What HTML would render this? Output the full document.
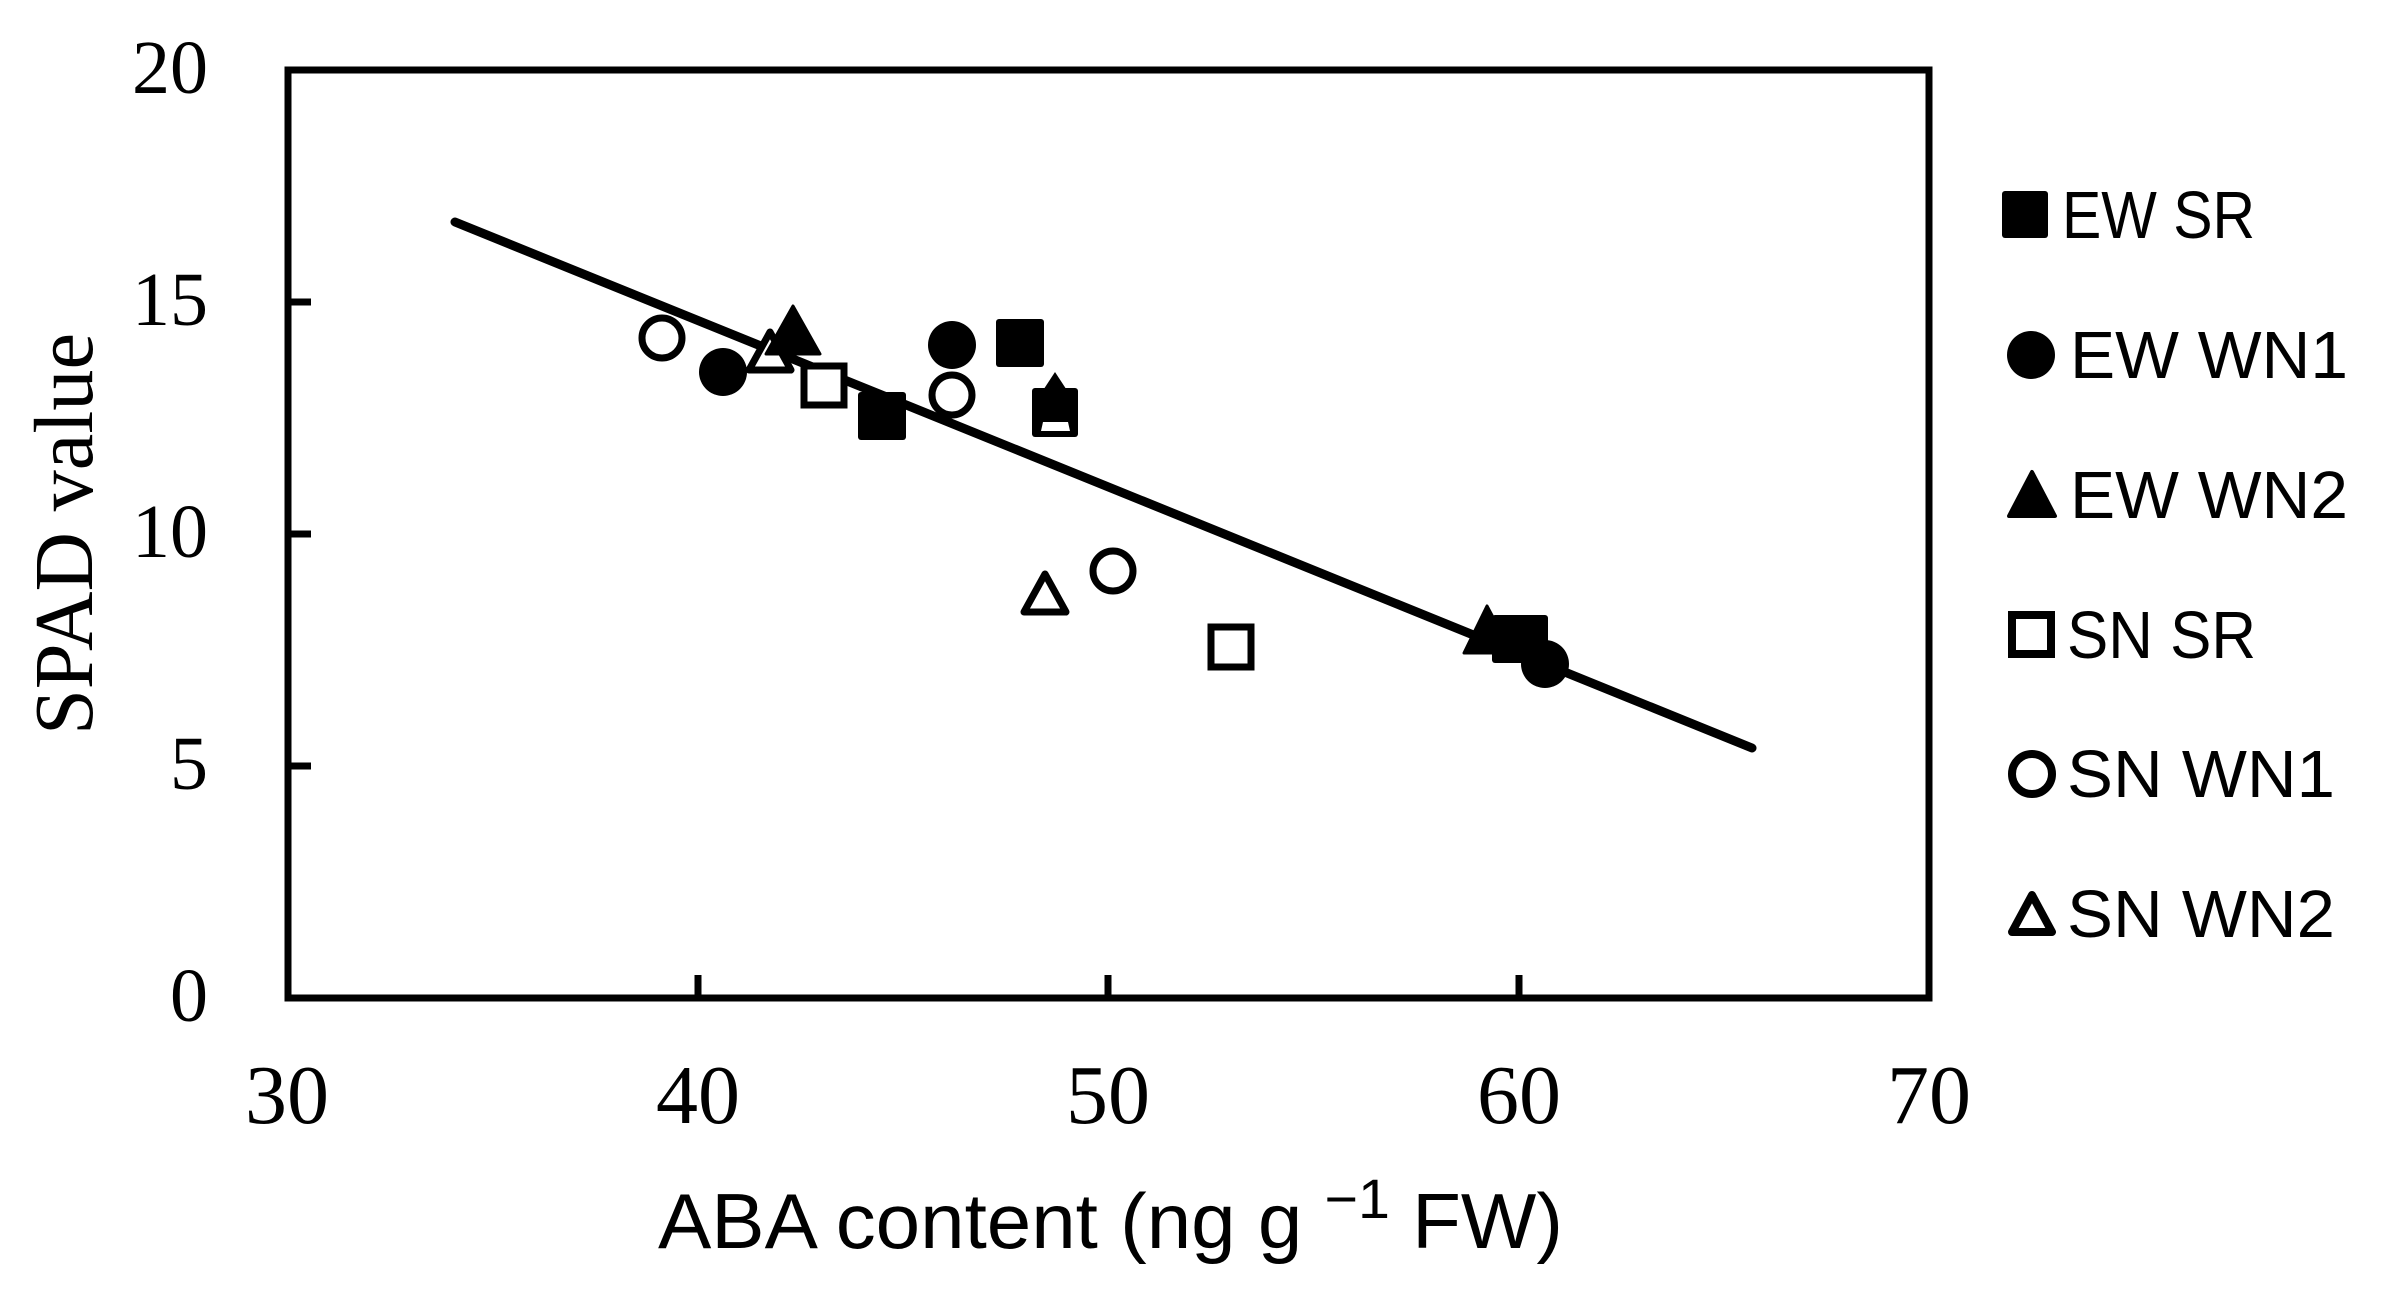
<!DOCTYPE html>
<html><head><meta charset="utf-8"><style>html,body{margin:0;padding:0;background:#fff}svg{display:block}</style></head>
<body>
<svg width="2393" height="1295" viewBox="0 0 2393 1295" xmlns="http://www.w3.org/2000/svg">
<rect width="2393" height="1295" fill="#fff"/>
<!-- plot frame -->
<rect x="288" y="70" width="1641" height="928" fill="none" stroke="#000" stroke-width="7"/>
<!-- ticks -->
<g stroke="#000" stroke-width="7">
<line x1="698" y1="998" x2="698" y2="975"/>
<line x1="1108" y1="998" x2="1108" y2="975"/>
<line x1="1519" y1="998" x2="1519" y2="975"/>
<line x1="288" y1="766" x2="311" y2="766"/>
<line x1="288" y1="534" x2="311" y2="534"/>
<line x1="288" y1="302" x2="311" y2="302"/>
</g>
<!-- y tick labels -->
<g font-family="Liberation Serif, serif" font-size="76" text-anchor="end" fill="#000">
<text x="208" y="93">20</text>
<text x="208" y="325">15</text>
<text x="208" y="557">10</text>
<text x="208" y="789">5</text>
<text x="208" y="1021">0</text>
</g>
<!-- x tick labels -->
<g font-family="Liberation Serif, serif" font-size="84" text-anchor="middle" fill="#000">
<text x="287" y="1123">30</text>
<text x="698" y="1123">40</text>
<text x="1108" y="1123">50</text>
<text x="1519" y="1123">60</text>
<text x="1929" y="1123">70</text>
</g>
<!-- axis titles -->
<text transform="translate(92,534) rotate(-90)" font-family="Liberation Serif, serif" font-size="84" text-anchor="middle" textLength="402" lengthAdjust="spacingAndGlyphs">SPAD value</text>
<text x="658" y="1248" font-family="Liberation Sans, sans-serif" font-size="78" textLength="905" lengthAdjust="spacingAndGlyphs">ABA content (ng g <tspan font-size="56" dy="-30">−1</tspan><tspan dy="30"> FW)</tspan></text>
<!-- regression line -->
<line x1="455" y1="222" x2="1752" y2="748" stroke="#000" stroke-width="9" stroke-linecap="round"/>
<!-- SN open markers -->
<g fill="#fff" stroke="#000" stroke-width="7">
<circle cx="662" cy="338" r="20"/>
<circle cx="952" cy="395" r="20"/>
<circle cx="1113" cy="571" r="20"/>
<rect x="804" y="366" width="40" height="39"/>
<rect x="1211" y="627" width="40" height="40"/>
<path d="M770 332 L791 370 L749 370 Z" stroke-linejoin="round"/>
<path d="M1045 574 L1066 612 L1024 612 Z" stroke-linejoin="round"/>
</g>
<!-- EW filled markers -->
<g fill="#000">
<circle cx="723" cy="372" r="24"/>
<circle cx="952" cy="345" r="24"/>
<circle cx="1545" cy="664" r="24"/>
<rect x="996" y="319" width="48" height="48" rx="3"/>
<rect x="858" y="392" width="48" height="48" rx="3"/>
<rect x="1492" y="615" width="48" height="48" rx="3"/>
<rect x="1500" y="615" width="48" height="48" rx="3"/>
<path d="M793 306 L820 354 L766 354 Z" stroke="#000" stroke-width="3" stroke-linejoin="round"/>
<path d="M1487 606 L1512 653 L1464 653 Z" stroke="#000" stroke-width="3" stroke-linejoin="round"/>
</g>
<!-- overlapped marker at ~48.7 -->
<rect x="1032" y="388" width="46" height="49" rx="3" fill="#000"/>
<path d="M1055 372 L1072 398 L1038 398 Z" fill="#000"/>
<path d="M1043 422 L1068 422 L1070 431 L1041 431 Z" fill="#fff"/>
<!-- legend -->
<g font-family="Liberation Sans, sans-serif" font-size="67" fill="#000">
<rect x="2002" y="191" width="46" height="47" rx="3"/>
<text x="2062" y="238" textLength="193" lengthAdjust="spacingAndGlyphs">EW SR</text>
<circle cx="2031" cy="355" r="24"/>
<text x="2070" y="378" textLength="278" lengthAdjust="spacingAndGlyphs">EW WN1</text>
<path d="M2032 472 L2055 516 L2009 516 Z" stroke="#000" stroke-width="4" stroke-linejoin="round"/>
<text x="2070" y="518" textLength="278" lengthAdjust="spacingAndGlyphs">EW WN2</text>
<rect x="2012" y="615" width="39" height="39" fill="#fff" stroke="#000" stroke-width="8"/>
<text x="2067" y="658" textLength="189" lengthAdjust="spacingAndGlyphs">SN SR</text>
<circle cx="2032" cy="774" r="20" fill="#fff" stroke="#000" stroke-width="8"/>
<text x="2067" y="797" textLength="268" lengthAdjust="spacingAndGlyphs">SN WN1</text>
<path d="M2032 895 L2052 932 L2012 932 Z" fill="#fff" stroke="#000" stroke-width="8" stroke-linejoin="round"/>
<text x="2067" y="937" textLength="268" lengthAdjust="spacingAndGlyphs">SN WN2</text>
</g>
</svg>
</body></html>
